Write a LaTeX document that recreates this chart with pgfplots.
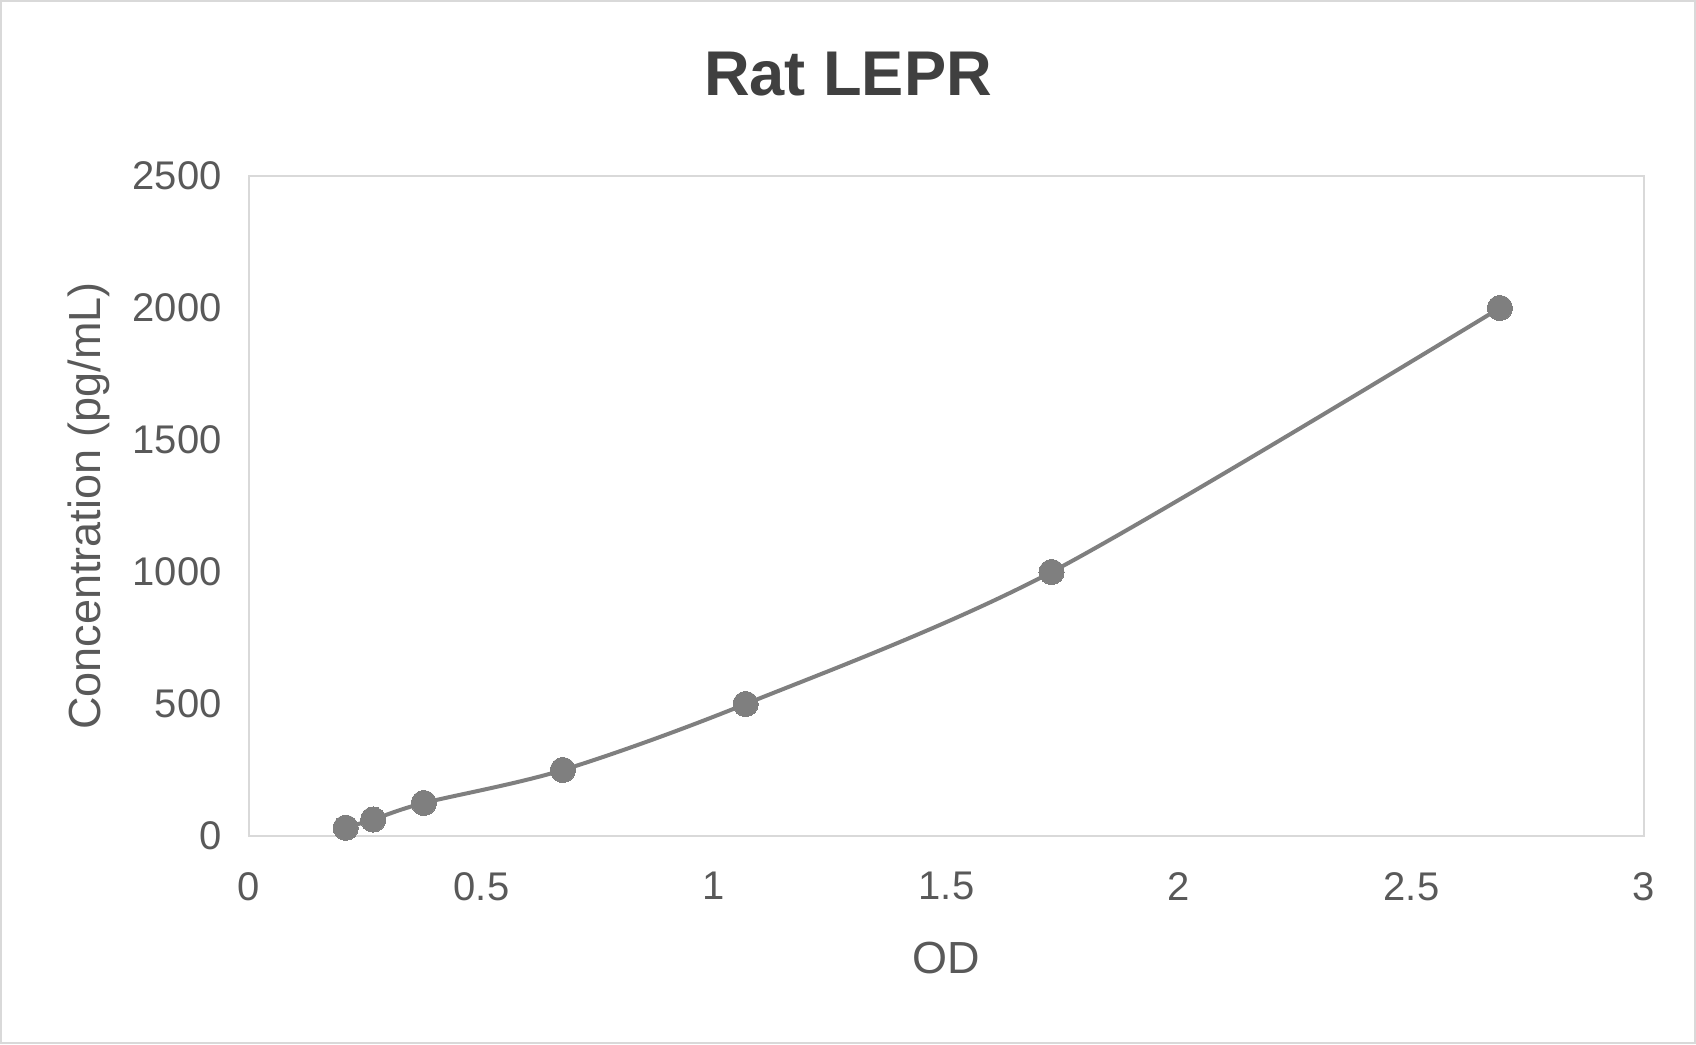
\documentclass[border=0pt]{standalone}
\usepackage{pgfplots}
\pgfplotsset{compat=1.18}
\usepackage{fontspec}
\setmainfont{Liberation Sans}

\definecolor{txtgray}{RGB}{89,89,89}
\definecolor{titlegray}{RGB}{64,64,64}
\definecolor{linegray}{RGB}{127,127,127}
\definecolor{framegray}{RGB}{217,217,217}

\begin{document}
\begin{tikzpicture}
% outer chart area (1px = 0.5pt)
\path[use as bounding box] (-124.5pt,-104pt) rectangle (723.5pt,418pt);
\draw[framegray, line width=1pt] (-124pt,-103.5pt) rectangle (723pt,417.5pt);

\begin{axis}[
    at={(0,0)}, anchor=south west,
    scale only axis,
    width=697.5pt, height=330pt,
    xmin=0, xmax=3,
    ymin=0, ymax=2500,
    xtick={0,0.5,1,1.5,2,2.5,3},
    ytick={0,500,1000,1500,2000,2500},
    major tick length=0pt,
    axis line style={framegray, line width=1pt},
    /pgf/number format/assume math mode=true,
    /pgf/number format/1000 sep={},
    ticklabel style={txtgray, font=\fontsize{20}{24}\selectfont, inner sep=0pt},
    yticklabel style={anchor=east, xshift=-13.5pt},
    xticklabel style={anchor=north, yshift=-18pt},
    title={Rat LEPR},
    title style={at={(axis description cs:0.4294,1.136)}, anchor=center,
                 titlegray, font=\fontsize{31.6}{36}\selectfont\bfseries},
    xlabel={OD},
    ylabel={Concentration (pg/mL)},
    xlabel style={at={(axis description cs:0.5,-0.1848)}, anchor=center,
                  txtgray, font=\fontsize{22.5}{27}\selectfont},
    ylabel style={at={(axis description cs:-0.1147,0.5)}, anchor=center,
                  txtgray, font=\fontsize{22.5}{27}\selectfont},
]

% standard curve
\addplot[smooth, linegray, line width=2pt, mark=*, mark size=6.3pt,
         mark options={fill=linegray, draw=linegray, line width=0pt}] coordinates {
    (0.208,31.25)
    (0.267,62.5)
    (0.376,125)
    (0.675,250)
    (1.068,500)
    (1.726,1000)
    (2.690,2000)
};

\end{axis}
\end{tikzpicture}
\end{document}
